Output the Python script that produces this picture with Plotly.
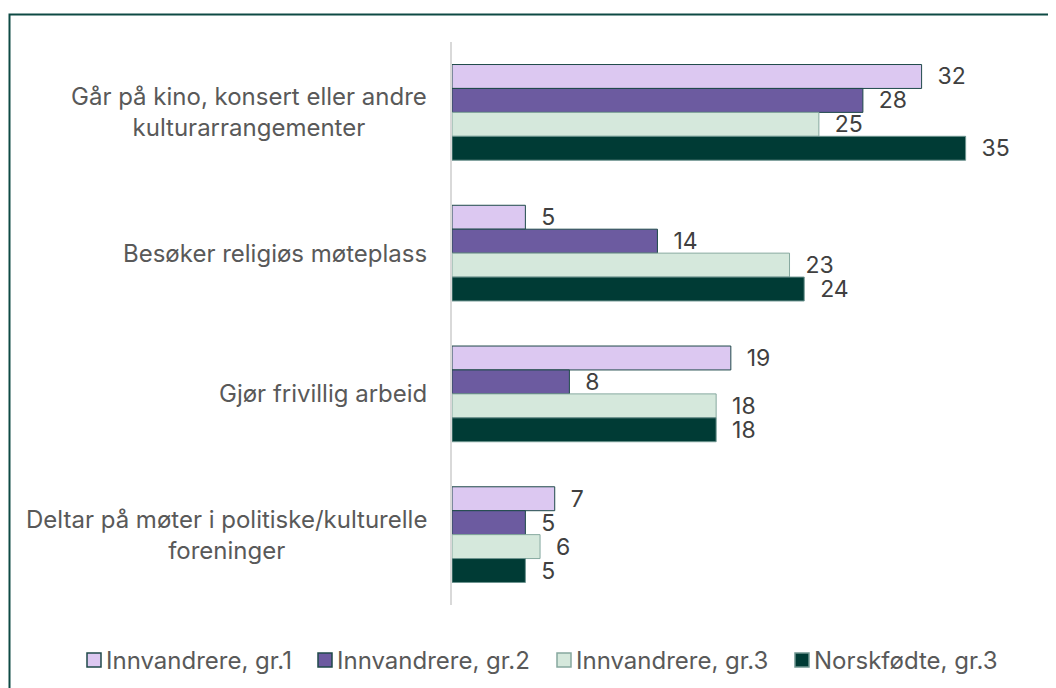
import plotly.graph_objects as go

categories = [
    "Går på kino, konsert eller andre<br>kulturarrangementer",
    "Besøker religiøs møteplass",
    "Gjør frivillig arbeid",
    "Deltar på møter i politiske/kulturelle<br>foreninger",
]
series_names = ["Innvandrere, gr.1", "Innvandrere, gr.2", "Innvandrere, gr.3", "Norskfødte, gr.3"]
innv_gr1 = [32, 5, 19, 7]
innv_gr2 = [28, 14, 8, 5]
innv_gr3 = [25, 23, 18, 6]
norsk_gr3 = [35, 24, 18, 5]

fills = ["#dcc8f1", "#6c5ba0", "#d5e8dc", "#003b35"]
outlines = ["#1f4a4a", "#1f4a4a", "#86a89f", "#6f9590"]

W, H = 1056, 688
ML, MR, MT, MB = 444, 25, 34, 91
ph = H - MT - MB
pw = W - ML - MR


def px_x(x):
    return (x - ML) / pw


def px_y(y):
    return 1 - (y - MT) / ph


fig = go.Figure()
for name, vals, fc, lc in zip(series_names, [innv_gr1, innv_gr2, innv_gr3, norsk_gr3], fills, outlines):
    fig.add_trace(go.Bar(
        y=categories, x=vals, name=name, orientation="h",
        marker=dict(color=fc, line=dict(color=lc, width=1)),
        text=[str(v) for v in vals], textposition="outside",
        texttemplate="\u00a0\u00a0%{text}", constraintext="none",
        textfont=dict(family="Inter", size=23, color="#404040"),
        cliponaxis=False, showlegend=False,
    ))

# kategoritekster (sentrert flerlinjetekst)
for i, c in enumerate(categories):
    fig.add_annotation(x=0, y=i, xref="paper", yref="y", text=c, showarrow=False,
                       xanchor="right", align="center", xshift=-23,
                       font=dict(family="Inter", size=24, color="#595959"))

# egen tegnforklaring
leg_x = [79, 310, 549, 787]
leg_y = 652
for name, fc, lc, lx in zip(series_names, fills, outlines, leg_x):
    fig.add_shape(type="rect", xref="paper", yref="paper",
                  x0=px_x(lx), x1=px_x(lx + 14), y0=px_y(leg_y + 7), y1=px_y(leg_y - 7),
                  fillcolor=fc, line=dict(color=lc, width=1.5))
    fig.add_annotation(x=px_x(lx + 17), y=px_y(leg_y), xref="paper", yref="paper",
                       text=name, showarrow=False, xanchor="left", yanchor="middle",
                       font=dict(family="Inter", size=24, color="#595959"))

# ramme rundt figuren
fig.add_shape(type="rect", xref="paper", yref="paper",
              x0=px_x(1.5), x1=px_x(W + 20), y0=px_y(H + 20), y1=px_y(6.5),
              line=dict(color="#0e4a44", width=2))

fig.update_layout(
    width=W, height=H,
    margin=dict(l=ML, r=MR, t=MT, b=MB, autoexpand=False),
    paper_bgcolor="white", plot_bgcolor="white",
    barmode="group", bargap=0.32, bargroupgap=0,
    font=dict(family="Inter", size=24, color="#595959"),
    xaxis=dict(range=[0, 40], showticklabels=False, showgrid=False, zeroline=False,
               showline=False, ticks=""),
    yaxis=dict(type="category", categoryorder="array", categoryarray=categories,
               range=[3.5, -0.5], showticklabels=False, ticks="",
               showline=True, linecolor="#d9d9d9", linewidth=2, showgrid=False),
    showlegend=False,
)

fig.write_html("out.html")
